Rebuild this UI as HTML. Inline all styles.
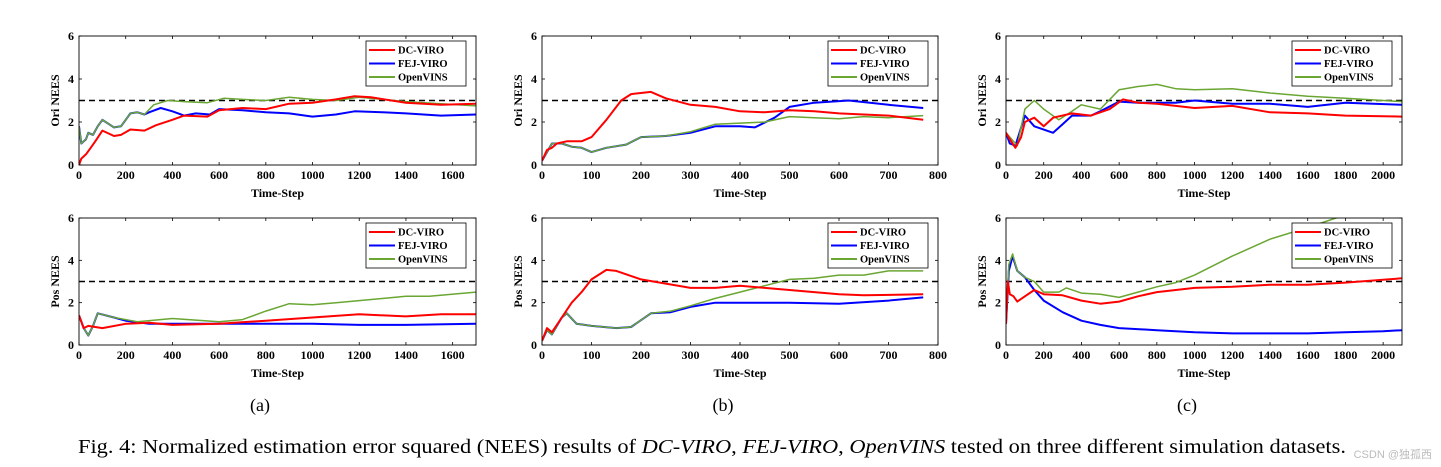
<!DOCTYPE html>
<html><head><meta charset="utf-8"><style>
body{margin:0;background:#fff;}
svg{display:block;font-family:"Liberation Serif",serif;}
</style></head><body>
<svg id="fig" width="1441" height="467" viewBox="0 0 1441 467" xmlns="http://www.w3.org/2000/svg">
<text x="260" y="411" font-size="18" text-anchor="middle">(a)</text>
<text x="723" y="411" font-size="18" text-anchor="middle">(b)</text>
<text x="1187" y="411" font-size="18" text-anchor="middle">(c)</text>
<text x="78" y="453" font-size="20" textLength="1268" lengthAdjust="spacingAndGlyphs">Fig. 4: Normalized estimation error squared (NEES) results of <tspan font-style="italic">DC-VIRO</tspan>, <tspan font-style="italic">FEJ-VIRO</tspan>, <tspan font-style="italic">OpenVINS</tspan> tested on three different simulation datasets.</text>
<text x="1432" y="458" font-size="11" fill="#bbb" text-anchor="end" font-family="Liberation Sans, Noto Sans CJK SC, sans-serif">CSDN @独孤西</text>
</svg>
<script>
const seriesNames=["DC-VIRO","FEJ-VIRO","OpenVINS"];
const seriesColors=["#ff0000","#0000ff","#6aa632"];
const xMaxA=1700, xMaxB=800, xMaxC=2100;
const xTicksA=[0,200,400,600,800,1000,1200,1400,1600];
const xTicksB=[0,100,200,300,400,500,600,700,800];
const xTicksC=[0,200,400,600,800,1000,1200,1400,1600,1800,2000];
const yTicks=[0,2,4,6];
const refLine=3;
const oriA_dc=[[0,0],[10,0.3],[30,0.5],[50,0.8],[70,1.1],[100,1.6],[150,1.35],[180,1.4],[220,1.65],[280,1.6],[330,1.85],[400,2.1],[450,2.3],[550,2.25],[600,2.55],[700,2.65],[800,2.6],[900,2.85],[1000,2.9],[1100,3.05],[1180,3.2],[1250,3.15],[1400,2.9],[1550,2.8],[1700,2.85]];
const oriA_fej=[[0,1.8],[10,1.0],[30,1.2],[40,1.5],[60,1.4],[80,1.8],[100,2.1],[150,1.75],[180,1.8],[220,2.4],[250,2.45],[280,2.35],[300,2.45],[350,2.65],[400,2.5],[450,2.3],[500,2.4],[560,2.35],[600,2.6],[700,2.55],[800,2.45],[900,2.4],[1000,2.25],[1100,2.35],[1180,2.5],[1300,2.45],[1400,2.4],[1550,2.3],[1700,2.35]];
const oriA_ov=[[0,1.8],[10,1.0],[30,1.2],[40,1.5],[60,1.4],[80,1.8],[100,2.1],[150,1.75],[180,1.8],[220,2.4],[250,2.45],[280,2.35],[320,2.8],[380,3.0],[450,2.95],[550,2.9],[620,3.1],[700,3.05],[800,3.0],[900,3.15],[1000,3.05],[1100,3.0],[1200,3.15],[1300,3.05],[1400,2.95],[1550,2.85],[1700,2.75]];
const oriB_dc=[[0,0.2],[10,0.7],[20,0.8],[30,1.0],[50,1.1],[80,1.1],[100,1.3],[130,2.1],[160,3.0],[180,3.3],[200,3.35],[220,3.4],[250,3.1],[300,2.8],[350,2.7],[400,2.5],[450,2.45],[500,2.55],[550,2.5],[600,2.4],[650,2.35],[700,2.3],[770,2.1]];
const oriB_fej=[[0,0.2],[10,0.6],[20,1.0],[40,1.0],[60,0.85],[80,0.8],[100,0.6],[130,0.8],[170,0.95],[200,1.3],[250,1.35],[300,1.5],[350,1.8],[400,1.8],[430,1.75],[470,2.2],[500,2.7],[550,2.9],[620,3.0],[700,2.8],[770,2.65]];
const oriB_ov=[[0,0.2],[10,0.6],[20,1.0],[40,1.0],[60,0.85],[80,0.8],[100,0.6],[130,0.8],[170,0.95],[200,1.3],[250,1.35],[300,1.55],[350,1.9],[400,1.95],[450,2.0],[500,2.25],[550,2.2],[600,2.15],[650,2.25],[700,2.2],[770,2.3]];
const oriC_dc=[[0,1.5],[20,1.2],[50,0.8],[80,1.3],[100,2.0],[150,2.2],[200,1.8],[250,2.2],[350,2.4],[450,2.3],[550,2.6],[620,3.05],[700,2.9],[800,2.85],[1000,2.65],[1200,2.75],[1400,2.45],[1600,2.4],[1800,2.3],[2100,2.25]];
const oriC_fej=[[0,1.5],[20,1.0],[50,0.9],[100,2.3],[150,1.8],[250,1.5],[300,1.9],[350,2.3],[450,2.3],[500,2.5],[600,2.95],[700,2.9],[900,2.9],[1000,3.0],[1200,2.85],[1400,2.85],[1600,2.7],[1800,2.9],[2100,2.8]];
const oriC_ov=[[0,1.5],[30,1.2],[60,0.9],[100,2.6],[150,3.0],[200,2.6],[280,2.1],[350,2.5],[400,2.8],[500,2.6],[600,3.5],[700,3.65],[800,3.75],[900,3.55],[1000,3.5],[1200,3.55],[1400,3.35],[1600,3.2],[1800,3.1],[2100,2.95]];
const posA_dc=[[0,1.4],[20,0.8],[40,0.9],[70,0.85],[100,0.8],[200,1.0],[300,1.05],[400,0.95],[600,1.0],[800,1.15],[1000,1.3],[1200,1.45],[1400,1.35],[1550,1.45],[1700,1.45]];
const posA_fej=[[0,1.4],[20,0.8],[40,0.45],[60,0.9],[80,1.5],[150,1.3],[200,1.15],[300,1.0],[400,1.0],[600,1.0],[800,1.0],[1000,1.0],[1200,0.95],[1400,0.95],[1700,1.0]];
const posA_ov=[[0,1.4],[20,0.8],[40,0.45],[60,0.9],[80,1.5],[150,1.3],[250,1.1],[400,1.25],[600,1.1],[700,1.2],[800,1.6],[900,1.95],[1000,1.9],[1100,2.0],[1200,2.1],[1400,2.3],[1500,2.3],[1700,2.5]];
const posB_dc=[[0,0.2],[10,0.8],[20,0.6],[40,1.3],[60,2.0],[80,2.5],[100,3.1],[130,3.55],[150,3.5],[200,3.1],[250,2.9],[300,2.7],[350,2.7],[400,2.8],[450,2.7],[500,2.6],[550,2.5],[600,2.4],[650,2.35],[770,2.4]];
const posB_fej=[[0,0.2],[10,0.7],[20,0.5],[40,1.3],[50,1.5],[70,1.0],[100,0.9],[150,0.8],[180,0.85],[220,1.5],[260,1.55],[300,1.8],[350,2.0],[400,2.0],[500,2.0],[600,1.95],[700,2.1],[770,2.25]];
const posB_ov=[[0,0.2],[10,0.7],[20,0.5],[40,1.3],[50,1.5],[70,1.0],[100,0.9],[150,0.8],[180,0.85],[220,1.5],[260,1.6],[300,1.85],[350,2.2],[400,2.5],[450,2.8],[500,3.1],[550,3.15],[600,3.3],[650,3.3],[700,3.5],[770,3.5]];
const posC_dc=[[0,1.0],[10,3.0],[20,2.4],[40,2.3],[60,2.05],[100,2.3],[150,2.6],[200,2.4],[300,2.35],[400,2.1],[500,1.95],[600,2.05],[700,2.3],[800,2.5],[1000,2.7],[1200,2.75],[1400,2.85],[1600,2.85],[1800,2.95],[2100,3.15]];
const posC_fej=[[0,1.0],[15,3.5],[35,4.2],[60,3.5],[100,3.2],[150,2.6],[200,2.1],[300,1.55],[400,1.15],[500,0.95],[600,0.8],[800,0.7],[1000,0.6],[1200,0.55],[1400,0.55],[1600,0.55],[1800,0.6],[2000,0.65],[2100,0.7]];
const posC_ov=[[0,1.0],[15,3.8],[35,4.3],[60,3.5],[100,3.2],[150,3.0],[200,2.5],[280,2.5],[320,2.7],[400,2.45],[500,2.4],[600,2.25],[700,2.5],[800,2.75],[900,2.95],[1000,3.3],[1200,4.2],[1400,5.0],[1600,5.55],[1750,6.0],[1800,6.1]];

const NS="http://www.w3.org/2000/svg";
const svg=document.getElementById('fig');
function mk(tag,attrs,parent){const e=document.createElementNS(NS,tag);for(const k in attrs)e.setAttribute(k,attrs[k]);(parent||svg).appendChild(e);return e;}
let clipId=0;
function panel(id,L,T,R,B,xMax,xTicks,yLabel,series){
  const g=mk('g',{});
  
  
  const sx=v=>L+(v/xMax)*(R-L), sy=v=>B-(v/6)*(B-T);
  const cid='c'+(clipId++);
  const cp=mk('clipPath',{id:cid},g);mk('rect',{x:L,y:T,width:R-L,height:B-T},cp);
  xTicks.forEach(t=>{
    const x=sx(t);
    mk('line',{x1:x,y1:B,x2:x,y2:B-3,stroke:'#000','stroke-width':0.8},g);
    mk('line',{x1:x,y1:T,x2:x,y2:T+3,stroke:'#000','stroke-width':0.8},g);
    const tx=mk('text',{x:x,y:B+14,'font-size':12,'font-weight':'bold','text-anchor':'middle'},g);tx.textContent=t;
    
    
  });
  yTicks.forEach(t=>{
    const y=sy(t);
    mk('line',{x1:L,y1:y,x2:L+3,y2:y,stroke:'#000','stroke-width':0.8},g);
    mk('line',{x1:R,y1:y,x2:R-3,y2:y,stroke:'#000','stroke-width':0.8},g);
    const ty=mk('text',{x:L-5,y:y+4,'font-size':12,'font-weight':'bold','text-anchor':'end'},g);ty.textContent=t;
    
    
  });
  const rl=mk('line',{x1:L,y1:sy(refLine),x2:R,y2:sy(refLine),stroke:'#000','stroke-width':1.5,'stroke-dasharray':'6,4'},g);
  
  
  [1,2,0].forEach(i=>{
    const d=series[i].map((p,j)=>(j?'L':'M')+sx(p[0]).toFixed(1)+','+sy(p[1]).toFixed(1)).join('');
    const pl=mk('path',{d:d,fill:'none',stroke:seriesColors[i],'stroke-width':i==2?1.5:2,'stroke-linejoin':'round','clip-path':'url(#'+cid+')'},g);
    
    
  });
  mk('rect',{x:L,y:T,width:R-L,height:B-T,fill:'none',stroke:'#000','stroke-width':0.9},g);
  const lg=mk('g',{},g);
  
  
  const lx=R-110,ly=T+5;
  mk('rect',{x:lx,y:ly,width:100,height:45,fill:'#fff',stroke:'#000','stroke-width':0.8},lg);
  seriesNames.forEach((n,i)=>{
    const y=ly+9+i*13.5;
    mk('line',{x1:lx+3,y1:y,x2:lx+29,y2:y,stroke:seriesColors[i],'stroke-width':2},lg);
    const t=mk('text',{x:lx+32,y:y+3.5,'font-size':10.5,'font-weight':'bold','text-anchor':'start'},lg);t.textContent=n;
    
    
  });
  const xl=mk('text',{x:(L+R)/2,y:B+32,'font-size':12,'font-weight':'bold','text-anchor':'middle'},g);xl.textContent='Time-Step';
  
  
  const yl=mk('text',{x:0,y:0,'font-size':12,'font-weight':'bold','text-anchor':'middle',transform:'translate('+(L-20)+','+((T+B)/2)+') rotate(-90)'},g);yl.textContent=yLabel;
  
  
}
panel('panel-a-ori',79,36,476,165,xMaxA,xTicksA,'Ori NEES',[oriA_dc,oriA_fej,oriA_ov]);
panel('panel-b-ori',542,36,938,165,xMaxB,xTicksB,'Ori NEES',[oriB_dc,oriB_fej,oriB_ov]);
panel('panel-c-ori',1006,36,1402,165,xMaxC,xTicksC,'Ori NEES',[oriC_dc,oriC_fej,oriC_ov]);
panel('panel-a-pos',79,218,476,345,xMaxA,xTicksA,'Pos NEES',[posA_dc,posA_fej,posA_ov]);
panel('panel-b-pos',542,218,938,345,xMaxB,xTicksB,'Pos NEES',[posB_dc,posB_fej,posB_ov]);
panel('panel-c-pos',1006,218,1402,345,xMaxC,xTicksC,'Pos NEES',[posC_dc,posC_fej,posC_ov]);
</script>
</body></html>
